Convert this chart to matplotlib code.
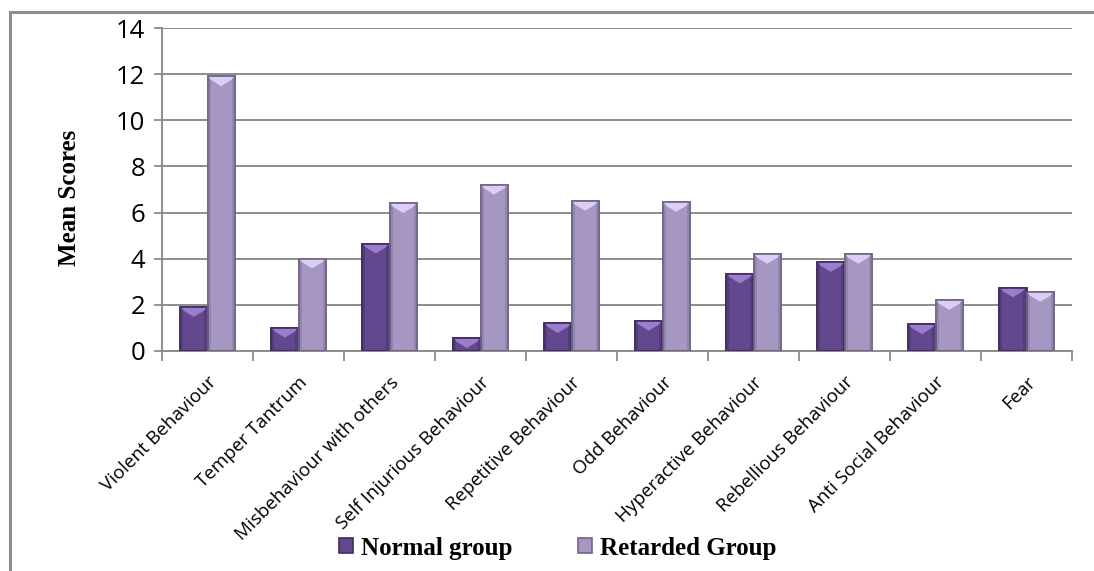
import matplotlib
matplotlib.use("Agg")
import matplotlib.pyplot as plt
import numpy as np
from matplotlib.patches import Polygon, Rectangle

categories = ["Violent Behaviour", "Temper Tantrum", "Misbehaviour with others",
              "Self Injurious Behaviour", "Repetitive Behaviour", "Odd Behaviour",
              "Hyperactive Behaviour", "Rebellious Behaviour", "Anti Social Behaviour",
              "Fear"]
normal_group = [1.9, 1.0, 4.65, 0.55, 1.2, 1.3, 3.35, 3.85, 1.15, 2.75]
retarded_group = [11.9, 4.0, 6.4, 7.2, 6.5, 6.45, 4.2, 4.2, 2.2, 2.55]
series_names = ["Normal group", "Retarded Group"]
y_ticks = [0, 2, 4, 6, 8, 10, 12, 14]

W, H = 1094, 571
fig = plt.figure(figsize=(W / 100, H / 100), dpi=100)
fig.patch.set_facecolor("white")

# outer chart frame
frame = Rectangle((10 / W, -0.02), 1.2, 1 - 12 / H + 0.02, transform=fig.transFigure,
                  fill=False, edgecolor="#8e8e8e", linewidth=2.2, clip_on=False)
fig.patches.append(frame)

ax = fig.add_axes([162 / W, 1 - 351 / H, (1072 - 162) / W, (351 - 28) / H])
grid_col = "#8c8c8c"
ax.set_xlim(0, len(categories))
ax.set_ylim(0, 14)
ax.set_yticks(y_ticks)
ax.set_yticklabels([str(t) for t in y_ticks], fontsize=18.5, family="Open Sans")
ax.yaxis.grid(True, color=grid_col, linewidth=1.4)
ax.set_axisbelow(True)
for s in ["top", "right"]:
    ax.spines[s].set_visible(False)
for s in ["left", "bottom"]:
    ax.spines[s].set_color(grid_col)
    ax.spines[s].set_linewidth(1.4)
ax.tick_params(axis="y", length=6, color=grid_col, width=1.3, pad=6)

# category boundary ticks, labels at centres
n = len(categories)
ax.set_xticks(np.arange(n + 1), minor=False)
ax.set_xticklabels([])
ax.set_xticks(np.arange(n) + 0.5, minor=True)
ax.set_xticklabels(categories, minor=True, rotation=45, ha="right", va="top",
                   rotation_mode="anchor", fontsize=13.5, family="Open Sans")
ax.tick_params(axis="x", which="major", length=7, color=grid_col, width=1.3)
ax.tick_params(axis="x", which="minor", length=0, pad=16)

bw = 0.3
x = np.arange(n) + 0.5
styles = [
    dict(face="#63488f", edge="#3f2d5e", hi="#9a7dcc", side="#553d7d"),
    dict(face="#a596c2", edge="#6f6585", hi="#dccdf2", side="#9484b2"),
]
offsets = [-bw / 2, bw / 2]
for vals, st, off, name in zip([normal_group, retarded_group], styles, offsets, series_names):
    bars = ax.bar(x + off, vals, width=bw, color=st["face"], edgecolor=st["edge"],
                  linewidth=1.2, label=name, zorder=3)
    for b, v in zip(bars, vals):
        left = b.get_x()
        right = left + b.get_width()
        d = min(0.42, v * 0.9)
        # darker side strips for a bevelled look
        ax.add_patch(Rectangle((left, 0), bw * 0.12, v, facecolor=st["side"],
                               edgecolor="none", zorder=3.5))
        ax.add_patch(Rectangle((right - bw * 0.12, 0), bw * 0.12, v, facecolor=st["side"],
                               edgecolor="none", zorder=3.5))
        ax.add_patch(Polygon([(left + 0.01, v), (right - 0.01, v),
                              (right - bw * 0.12, v - d * 0.35),
                              ((left + right) / 2, v - d),
                              (left + bw * 0.12, v - d * 0.35)],
                             closed=True, facecolor=st["hi"], edgecolor="none",
                             zorder=3.6))
        ax.add_patch(Rectangle((left, 0), bw, v, fill=False, edgecolor=st["edge"],
                               linewidth=1.2, zorder=3.8))

ax.set_ylabel("Mean Scores", fontsize=18, fontweight="bold", family="Liberation Serif")
ax.yaxis.set_label_coords(-0.089, 0.475)

handles, labels = ax.get_legend_handles_labels()
leg = fig.legend(handles, labels, loc="center", bbox_to_anchor=(0.51, 1 - 548 / H),
                 ncol=2, frameon=False, handlelength=0.55, handleheight=0.55,
                 handletextpad=0.35, columnspacing=2.6,
                 prop=dict(family="Liberation Serif", weight="bold", size=18))

fig.savefig("out.png", dpi=100, facecolor="white")
